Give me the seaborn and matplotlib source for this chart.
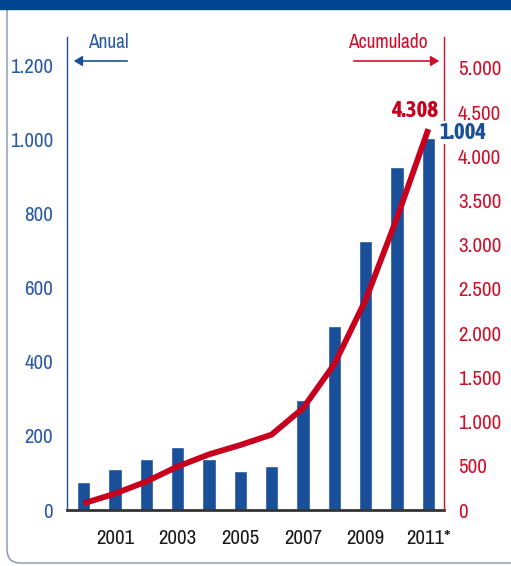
import numpy as np
import pandas as pd
import matplotlib
matplotlib.use("Agg")
import matplotlib.pyplot as plt
import seaborn as sns
from matplotlib import font_manager
from matplotlib.patches import FancyBboxPatch, Rectangle, FancyArrowPatch

# data
years = ["2000", "2001", "2002", "2003", "2004", "2005",
         "2006", "2007", "2008", "2009", "2010", "2011*"]
anual = [75, 110, 137, 170, 137, 106, 118, 298, 498, 728, 927, 1004]
left_ticks = [0, 200, 400, 600, 800, 1000, 1200]
right_ticks = [0, 500, 1000, 1500, 2000, 2500, 3000, 3500, 4000, 4500, 5000]

BLUE = "#1a4f9a"
BLUE_TXT = "#2b5aa6"
RED = "#c8001e"
RED_TXT = "#d0102a"

df = pd.DataFrame({"year": years, "anual": anual})
df["acumulado"] = df["anual"].cumsum()

sns.set_style("white")
# narrow face if there is one, otherwise Roboto a bit smaller
names = {f.name for f in font_manager.fontManager.ttflist}
if "Archivo Narrow" in names:
    plt.rcParams["font.family"] = ["Archivo Narrow", "DejaVu Sans"]
    FS = 15
else:
    plt.rcParams["font.family"] = ["Roboto", "DejaVu Sans"]
    FS = 12.5
# a condensed face with a real bold for the two end labels
bold_fam = ["DejaVu Sans"]
bold_fs = 12.5
for cand in ["Asap Condensed", "Barlow Semi Condensed", "Barlow Condensed"]:
    if cand in names:
        bold_fam = [cand, "DejaVu Sans"]
        bold_fs = 16.5
        break


def fmt(v):
    return f"{v:,}".replace(",", ".")


fig = plt.figure(figsize=(5.11, 5.66), dpi=100)
W, H = 511, 566

# header band and panel frame
fig.patches.append(FancyBboxPatch((7 / W, 3 / H), 1.2, 1.2,
                                  boxstyle="round,pad=0,rounding_size=0.025",
                                  transform=fig.transFigure, fill=False,
                                  ec="#7f93b8", lw=1.0, zorder=0))
fig.patches.append(Rectangle((0, 1 - 9 / H), 1, 9 / H, transform=fig.transFigure,
                             color="#004494", zorder=1))

ax = fig.add_axes([67 / W, 56 / H, (444 - 67) / W, (510 - 37) / H])
sns.barplot(data=df, x="year", y="anual", color=BLUE, width=0.42,
            saturation=1, ax=ax, zorder=2)
ax.set_xlim(-0.53, 11.5)
ax.set_ylim(0, 1278)
ax.set_yticks(left_ticks)
ax.set_yticklabels([fmt(v) for v in left_ticks], color=BLUE_TXT, fontsize=FS)
ax.set_xticks(range(1, 12, 2))
ax.set_xticklabels(years[1::2], fontsize=FS, color="#1a1a1a")
ax.tick_params(axis="y", length=0, pad=10)
ax.tick_params(axis="x", length=0, pad=14)
ax.set_xlabel("")
ax.set_ylabel("")
for s in ["top", "right"]:
    ax.spines[s].set_visible(False)
ax.spines["left"].set_color(BLUE)
ax.spines["left"].set_linewidth(1.0)
ax.spines["bottom"].set_color("#333333")
ax.spines["bottom"].set_linewidth(2.0)

ax2 = ax.twinx()
sns.lineplot(data=df, x="year", y="acumulado", color=RED, lw=4.2,
             sort=False, ax=ax2, zorder=3, solid_capstyle="butt",
             solid_joinstyle="round")
ax2.set_ylim(0, 5350)
ax2.set_yticks(right_ticks)
ax2.set_yticklabels([fmt(v) for v in right_ticks], color=RED_TXT, fontsize=FS)
ax2.tick_params(axis="y", length=0, pad=10)
ax2.set_ylabel("")
for s in ["top", "left", "bottom"]:
    ax2.spines[s].set_visible(False)
ax2.spines["right"].set_color(RED_TXT)
ax2.spines["right"].set_linewidth(1.0)

# end labels
last = len(years) - 1
ax2.annotate(fmt(df["acumulado"].iloc[-1]), (last, df["acumulado"].iloc[-1]),
             xytext=(7, 13), textcoords="offset points", ha="right",
             va="center", color=RED, fontsize=bold_fs, fontweight="bold",
             family=bold_fam)
ax2.annotate(fmt(anual[-1]), (last, df["acumulado"].iloc[-1]),
             xytext=(8, -2.5), textcoords="offset points", ha="left",
             va="center", color=BLUE, fontsize=bold_fs, fontweight="bold",
             family=bold_fam,
             bbox=dict(fc="white", ec="none", pad=0.5), zorder=5,
             annotation_clip=False)

# legend arrows
fig.text(88 / W, 1 - 42 / H, "Anual", color=BLUE_TXT, fontsize=FS - 1,
         ha="left", va="center")
fig.text(428 / W, 1 - 42 / H, "Acumulado", color=RED_TXT, fontsize=FS - 1,
         ha="right", va="center")
fig.add_artist(FancyArrowPatch(
    (130 / W, 1 - 61 / H), (71 / W, 1 - 61 / H), transform=fig.transFigure,
    arrowstyle="-|>,head_length=5,head_width=3", color=BLUE, lw=1.2))
fig.add_artist(FancyArrowPatch(
    (351 / W, 1 - 61 / H), (442 / W, 1 - 61 / H), transform=fig.transFigure,
    arrowstyle="-|>,head_length=5,head_width=3", color=RED_TXT, lw=1.2))

fig.savefig("out.png", dpi=100)
